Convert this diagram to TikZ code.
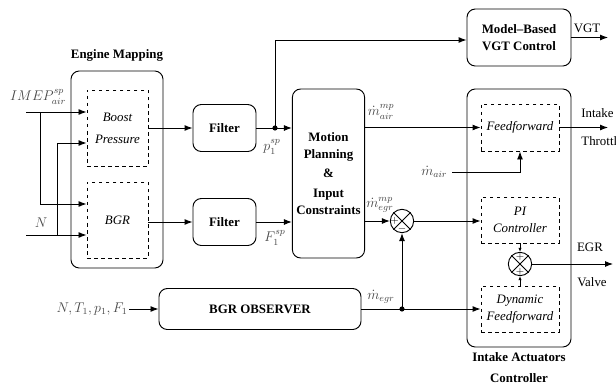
\documentclass[tikz,border=0pt]{standalone}
\usepackage{amssymb,amsmath}
\usepackage{fontspec}
\setmainfont{Liberation Serif}
\usetikzlibrary{arrows.meta}
\tikzstyle{block}=[rectangle, draw=black, rounded corners=2.5mm,
                   thick, align=center, font=\fontsize{11}{15}\selectfont\bfseries]
\tikzstyle{inner}=[rectangle, draw=black, dashed, align=center,
                   font=\fontsize{11}{19}\selectfont\itshape]
\tikzstyle{sum}=[circle, draw=black, thick, inner sep=0pt, minimum size=0.7cm]
\tikzstyle{sig}=[font=\large, text=black!72, inner sep=1pt]
\tikzstyle{sign}=[font=\fontsize{9}{9}\selectfont, inner sep=0pt]

\begin{document}
\begin{tikzpicture}[x=0.03cm,y=-0.03cm,thick,>={Latex[length=2.4mm,width=1.8mm]}]
  \tikzstyle{lables}=[font=\fontsize{11}{19}\selectfont, align=center]
  \useasboundingbox (0,0) rectangle (616,384);
  % engine mapping
  \node[block, minimum width=2.76cm, minimum height=5.91cm] (map) at (117,169.5) {};
  \node[inner, minimum width=1.83cm, minimum height=2.28cm] (boost) at (117.5,128) {Boost\\Pressure};
  \node[inner, minimum width=1.83cm, minimum height=2.28cm] (bgr) at (117.5,220) {BGR};
  \node[lables, font=\fontsize{11}{15}\selectfont\bfseries] (maplabel) at (117,55) {Engine Mapping};
  % filters and motion planning
  \node[block, minimum width=1.89cm, minimum height=1.41cm] (filtera) at (224.5,128) {Filter};
  \node[block, minimum width=1.89cm, minimum height=1.41cm] (filterb) at (224.5,222) {Filter};
  \node[block, minimum width=2.07cm, minimum height=5.07cm] (motion) at (328.5,173.5)
    {Motion\\Planning\\[1pt]\&\\[2pt]Input\\Constraints};
  \node[block, minimum width=3.12cm, minimum height=1.71cm] (vgt) at (519,37.5) {Model--Based\\VGT Control};
  % intake actuators controller
  \node[block, minimum width=3.12cm, minimum height=7.74cm] (iac) at (519,218) {};
  \node[inner, minimum width=2.34cm, minimum height=1.41cm] (ffw) at (520,127.5) {Feedforward};
  \node[inner, minimum width=2.34cm, minimum height=1.38cm, font=\fontsize{11}{14}\selectfont\itshape] (pi) at (520,220) {PI\\Controller};
  \node[inner, minimum width=2.34cm, minimum height=1.38cm, font=\fontsize{11}{14}\selectfont\itshape] (dyn) at (520,309) {Dynamic\\Feedforward};
  \node[lables, font=\fontsize{11}{18}\selectfont\bfseries] (iaclabel) at (519,368) {Intake Actuators\\Controller};
  \node[sum] (suma) at (402,221) {};
  \node[sum] (sumb) at (520,264) {};
  \draw (suma.north west) -- (suma.south east) (suma.north east) -- (suma.south west);
  \draw (sumb.north west) -- (sumb.south east) (sumb.north east) -- (sumb.south west);
  \node[sign] (sumaplus) at (394.5,221) {$+$};
  \node[sign] (sumaminus) at (402,228.5) {$-$};
  \node[sign] (sumbplusa) at (520,256.5) {$+$};
  \node[sign] (sumbplusb) at (520,271.5) {$+$};
  % observer
  \node[block, minimum width=6.06cm, minimum height=1.23cm] (obs) at (260,309) {BGR OBSERVER};
  % inputs
  \coordinate (imep) at (26,112);
  \coordinate (imepb) at (40,112);
  \coordinate (nin) at (26,235);
  \coordinate (nb) at (57,235);
  \node[sig] (imeplabel) at (38,97) {$IMEP^{sp}_{air}$};
  \node[sig] (nlabel) at (41,223) {$N$};
  \node[sig, anchor=east] (obsin) at (129,309) {$N,T_1,p_1,F_1$};
  \coordinate (mair) at (452,172);
  \node[sig, anchor=east] (mairlabel) at (449,172) {$\dot m_{air}$};
  \draw [->] (imep) -- (imep -| boost.west);
  \draw [->] (imepb) |- (bgr.west |- 0,204);
  \draw [->] (nin) -- (nin -| bgr.west);
  \draw [->] (nb) |- (boost.west |- 0,143);
  \draw [->] (boost.east |- filtera.west) -- (filtera.west);
  \draw [->] (bgr.east |- filterb.west) -- (filterb.west);
  % setpoints
  \coordinate (pdot) at (275,128);
  \coordinate (ptop) at (275,40);
  \fill (pdot) circle (2.2pt);
  \draw (filtera.east) -- (pdot);
  \draw [->] (pdot) -- (pdot -| motion.west);
  \draw [->] (pdot) -- (ptop) -- (ptop -| vgt.west);
  \draw [->] (filterb.east) -- (filterb.east -| motion.west);
  \node[sig] (plabel) at (272,147) {$p^{sp}_1$};
  \node[sig] (flabel) at (275,238) {$F^{sp}_1$};
  % motion planning outputs
  \draw [->] (motion.east |- ffw.west) -- (ffw.west);
  \draw [->] (motion.east |- suma.west) -- (suma.west);
  \draw [->] (suma.east) -- (suma.east -| pi.west);
  \node[sig] (mairmp) at (381,112) {$\dot m^{mp}_{air}$};
  \node[sig] (megrmp) at (380,205) {$\dot m^{mp}_{egr}$};
  \draw [->] (mair) -| (ffw.south);
  % observer outputs
  \coordinate (odot) at (402,309);
  \fill (odot) circle (2.2pt);
  \draw [->] (obsin) -- (obs.west);
  \draw (obs.east) -- (odot);
  \draw [->] (odot) -- (dyn.west);
  \draw [->] (odot) -- (suma.south);
  \node[sig] (megr) at (381,297) {$\dot m_{egr}$};
  % actuator outputs
  \draw [->, >={Latex[length=1.2mm,width=1mm]}] (pi.south) -- (sumb.north);
  \draw [->, >={Latex[length=1.2mm,width=1mm]}] (dyn.north) -- (sumb.south);
  \coordinate (vgtout) at (608,37.5);
  \coordinate (ffwout) at (608,127.5);
  \coordinate (egrout) at (613,264);
  \draw [->] (vgt.east) -- (vgtout);
  \draw [->] (ffw.east) -- (ffwout);
  \draw [->] (sumb.east) -- (egrout);
  \node[lables] (vgtlabel) at (587,28) {VGT};
  \node[lables, anchor=west] (intakelabel) at (577,113) {Intake};
  \node[lables, anchor=west] (throttlelabel) at (577,141) {Throttle};
  \node[lables] (egrlabel) at (590,247) {EGR};
  \node[lables] (valvelabel) at (592,282) {Valve};
\end{tikzpicture}
\end{document}
